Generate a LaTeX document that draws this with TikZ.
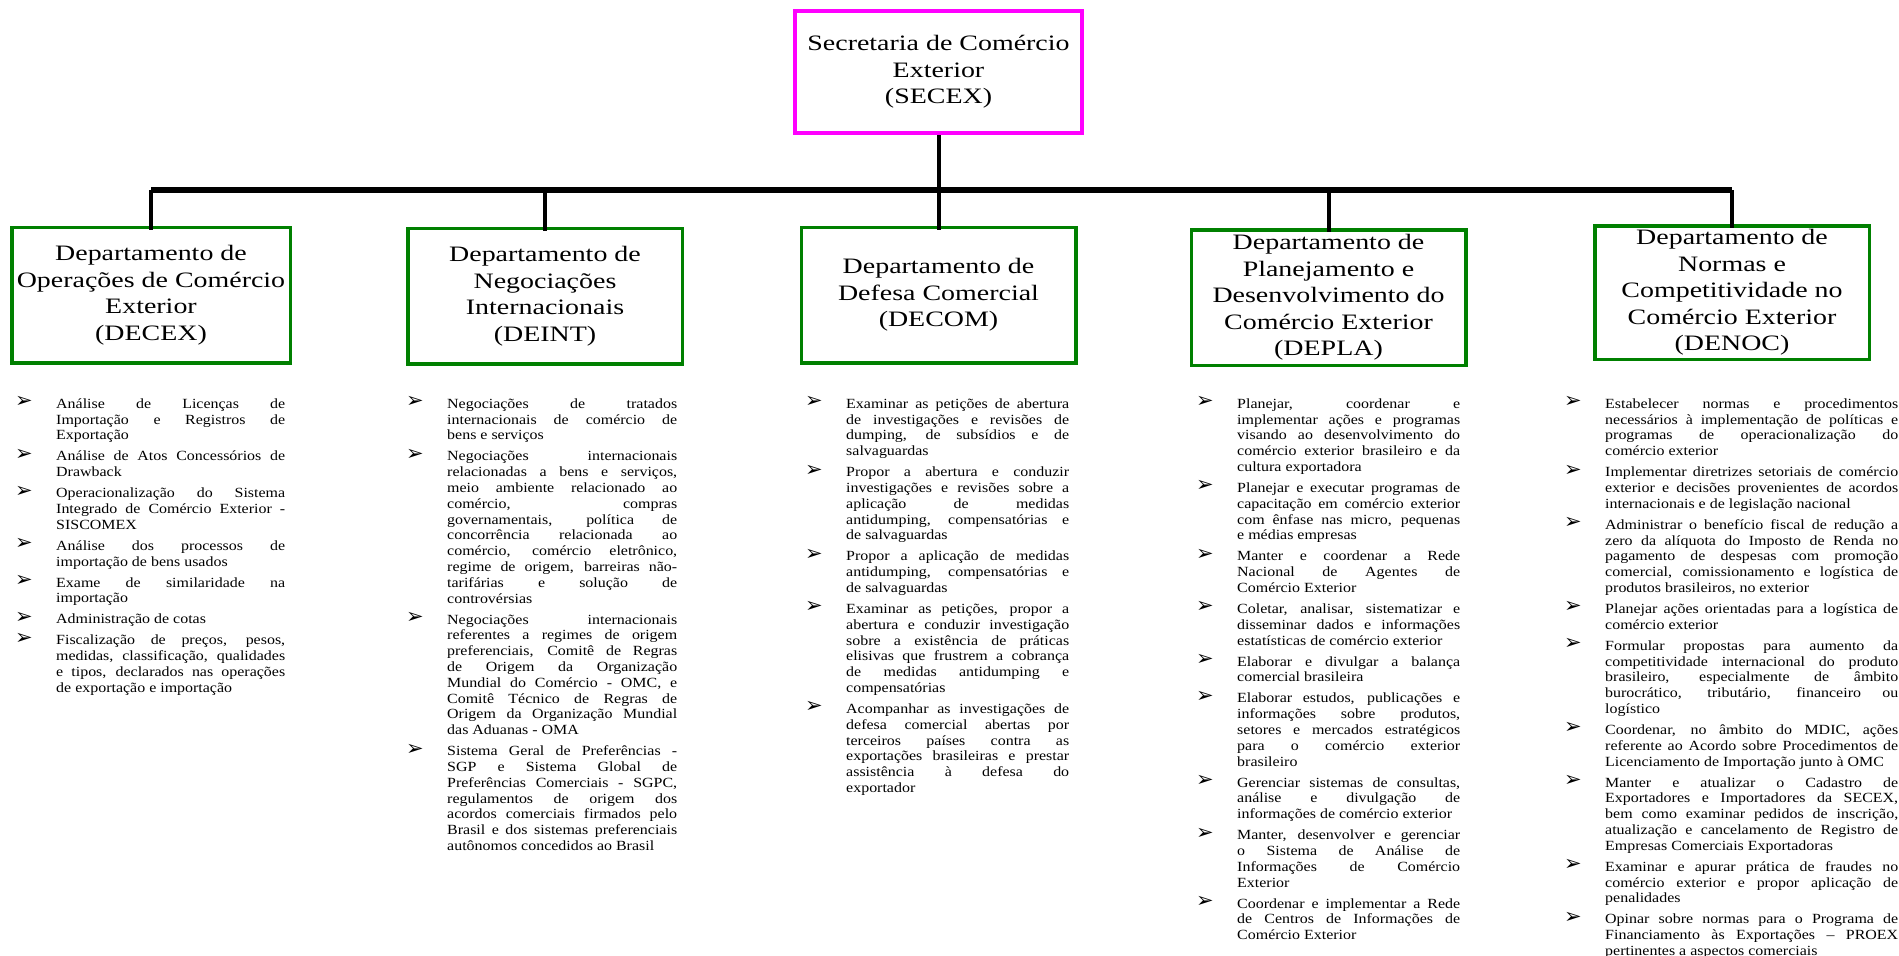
\documentclass[tikz,border=0pt]{standalone}
\usepackage{fontspec}
\setmainfont{Liberation Serif}
\newfontfamily\bodyfam[FakeStretch=1.14]{Liberation Serif}
\newfontfamily\titlefam[FakeStretch=1.27]{Liberation Serif}
\newfontfamily\arrowfam{DejaVu Sans}
\definecolor{deptgreen}{RGB}{0,128,0}
\definecolor{secmagenta}{RGB}{255,0,255}
\hyphenpenalty=10000
\exhyphenpenalty=10000
\newcommand\jbr{\linebreak}
\newcommand\bulletarrow{\raisebox{0.5pt}{\arrowfam\fontsize{21}{21}\selectfont ➢}}
\newcommand\firstitem{\noindent\rule{0pt}{13pt}\llap{\makebox[41pt][l]{\bulletarrow}}}
\newcommand\nextitem{\par\vspace{5.2pt}\noindent\llap{\makebox[41pt][l]{\bulletarrow}}}
\begin{document}
\begin{tikzpicture}[x=1pt,y=-1pt,
  deptbox/.style={draw=deptgreen, line width=3.5pt, minimum width=274.5pt, minimum height=135.5pt,
    inner sep=0pt, align=center, font=\titlefam\fontsize{22}{26.5}\selectfont},
  topbox/.style={draw=secmagenta, line width=4pt, minimum width=287pt, minimum height=122pt,
    inner sep=0pt, align=center, font=\titlefam\fontsize{22}{26.5}\selectfont},
  conn/.style={draw=black, line width=4pt},
  bus/.style={draw=black, line width=5.5pt},
  duty/.style={anchor=north west, inner sep=0pt, align=justify,
    font=\bodyfam\fontsize{14}{15.8}\selectfont}
]
\useasboundingbox (0,0) rectangle (1899,956);
\fill[white] (0,0) rectangle (1899,956);

% boxes
\node[topbox] (secex) at (938.5,72) {Secretaria de Comércio\\Exterior\\(SECEX)};
\node[deptbox, minimum width=278.5pt] (decex) at (151,295) {Departamento de\\Operações de Comércio\\Exterior\\(DECEX)};
\node[deptbox] (deint) at (545,296) {Departamento de\\Negociações\\Internacionais\\(DEINT)};
\node[deptbox] (decom) at (938.5,295) {Departamento de\\Defesa Comercial\\(DECOM)};
\node[deptbox] (depla) at (1328.5,297.5) {Departamento de\\Planejamento e\\Desenvolvimento do\\Comércio Exterior\\(DEPLA)};
\node[deptbox, minimum height=133.5pt] (denoc) at (1732,292.5) {Departamento de\\Normas e\\Competitividade no\\Comércio Exterior\\(DENOC)};

% connectors
\coordinate (busy) at (0,190);
\draw[bus] (decex.north |- busy) -- (denoc.north |- busy);
\draw[conn] (secex.south) -- ([yshift=-4pt]decom.north);
\foreach \d in {decex,deint,depla,denoc}{
  \draw[conn] (\d.north |- busy) -- ([yshift=-4pt]\d.north);
}

% duty lists
\node[duty, text width=229pt] (list1) at (56,395) {%
\firstitem Análise de Licenças de\jbr Importação e Registros de\jbr Exportação
\nextitem Análise de Atos Concessórios de\jbr Drawback
\nextitem Operacionalização do Sistema\jbr Integrado de Comércio Exterior -\jbr SISCOMEX
\nextitem Análise dos processos de\jbr importação de bens usados
\nextitem Exame de similaridade na\jbr importação
\nextitem Administração de cotas
\nextitem Fiscalização de preços, pesos,\jbr medidas, classificação, qualidades\jbr e tipos, declarados nas operações\jbr de exportação e importação};

\node[duty, text width=230pt] (list2) at (447,395) {%
\firstitem Negociações de tratados\jbr internacionais de comércio de\jbr bens e serviços
\nextitem Negociações internacionais\jbr relacionadas a bens e serviços,\jbr meio ambiente relacionado ao\jbr comércio, compras\jbr governamentais, política de\jbr concorrência relacionada ao\jbr comércio, comércio eletrônico,\jbr regime de origem, barreiras não-\jbr tarifárias e solução de\jbr controvérsias
\nextitem Negociações internacionais\jbr referentes a regimes de origem\jbr preferenciais, Comitê de Regras\jbr de Origem da Organização\jbr Mundial do Comércio - OMC, e\jbr Comitê Técnico de Regras de\jbr Origem da Organização Mundial\jbr das Aduanas - OMA
\nextitem Sistema Geral de Preferências -\jbr SGP e Sistema Global de\jbr Preferências Comerciais - SGPC,\jbr regulamentos de origem dos\jbr acordos comerciais firmados pelo\jbr Brasil e dos sistemas preferenciais\jbr autônomos concedidos ao Brasil};

\node[duty, text width=223pt] (list3) at (846,395) {%
\firstitem Examinar as petições de abertura\jbr de investigações e revisões de\jbr dumping, de subsídios e de\jbr salvaguardas
\nextitem Propor a abertura e conduzir\jbr investigações e revisões sobre a\jbr aplicação de medidas\jbr antidumping, compensatórias e\jbr de salvaguardas
\nextitem Propor a aplicação de medidas\jbr antidumping, compensatórias e\jbr de salvaguardas
\nextitem Examinar as petições, propor a\jbr abertura e conduzir investigação\jbr sobre a existência de práticas\jbr elisivas que frustrem a cobrança\jbr de medidas antidumping e\jbr compensatórias
\nextitem Acompanhar as investigações de\jbr defesa comercial abertas por\jbr terceiros países contra as\jbr exportações brasileiras e prestar\jbr assistência à defesa do\jbr exportador};

\node[duty, text width=223pt] (list4) at (1237,395) {%
\firstitem Planejar, coordenar e\jbr implementar ações e programas\jbr visando ao desenvolvimento do\jbr comércio exterior brasileiro e da\jbr cultura exportadora
\nextitem Planejar e executar programas de\jbr capacitação em comércio exterior\jbr com ênfase nas micro, pequenas\jbr e médias empresas
\nextitem Manter e coordenar a Rede\jbr Nacional de Agentes de\jbr Comércio Exterior
\nextitem Coletar, analisar, sistematizar e\jbr disseminar dados e informações\jbr estatísticas de comércio exterior
\nextitem Elaborar e divulgar a balança\jbr comercial brasileira
\nextitem Elaborar estudos, publicações e\jbr informações sobre produtos,\jbr setores e mercados estratégicos\jbr para o comércio exterior\jbr brasileiro
\nextitem Gerenciar sistemas de consultas,\jbr análise e divulgação de\jbr informações de comércio exterior
\nextitem Manter, desenvolver e gerenciar\jbr o Sistema de Análise de\jbr Informações de Comércio\jbr Exterior
\nextitem Coordenar e implementar a Rede\jbr de Centros de Informações de\jbr Comércio Exterior};

\node[duty, text width=293pt] (list5) at (1605,395) {%
\firstitem Estabelecer normas e procedimentos\jbr necessários à implementação de políticas e\jbr programas de operacionalização do\jbr comércio exterior
\nextitem Implementar diretrizes setoriais de comércio\jbr exterior e decisões provenientes de acordos\jbr internacionais e de legislação nacional
\nextitem Administrar o benefício fiscal de redução a\jbr zero da alíquota do Imposto de Renda no\jbr pagamento de despesas com promoção\jbr comercial, comissionamento e logística de\jbr produtos brasileiros, no exterior
\nextitem Planejar ações orientadas para a logística de\jbr comércio exterior
\nextitem Formular propostas para aumento da\jbr competitividade internacional do produto\jbr brasileiro, especialmente de âmbito\jbr burocrático, tributário, financeiro ou\jbr logístico
\nextitem Coordenar, no âmbito do MDIC, ações\jbr referente ao Acordo sobre Procedimentos de\jbr Licenciamento de Importação junto à OMC
\nextitem Manter e atualizar o Cadastro de\jbr Exportadores e Importadores da SECEX,\jbr bem como examinar pedidos de inscrição,\jbr atualização e cancelamento de Registro de\jbr Empresas Comerciais Exportadoras
\nextitem Examinar e apurar prática de fraudes no\jbr comércio exterior e propor aplicação de\jbr penalidades
\nextitem Opinar sobre normas para o Programa de\jbr Financiamento às Exportações – PROEX\jbr pertinentes a aspectos comerciais};
\end{tikzpicture}
\end{document}
